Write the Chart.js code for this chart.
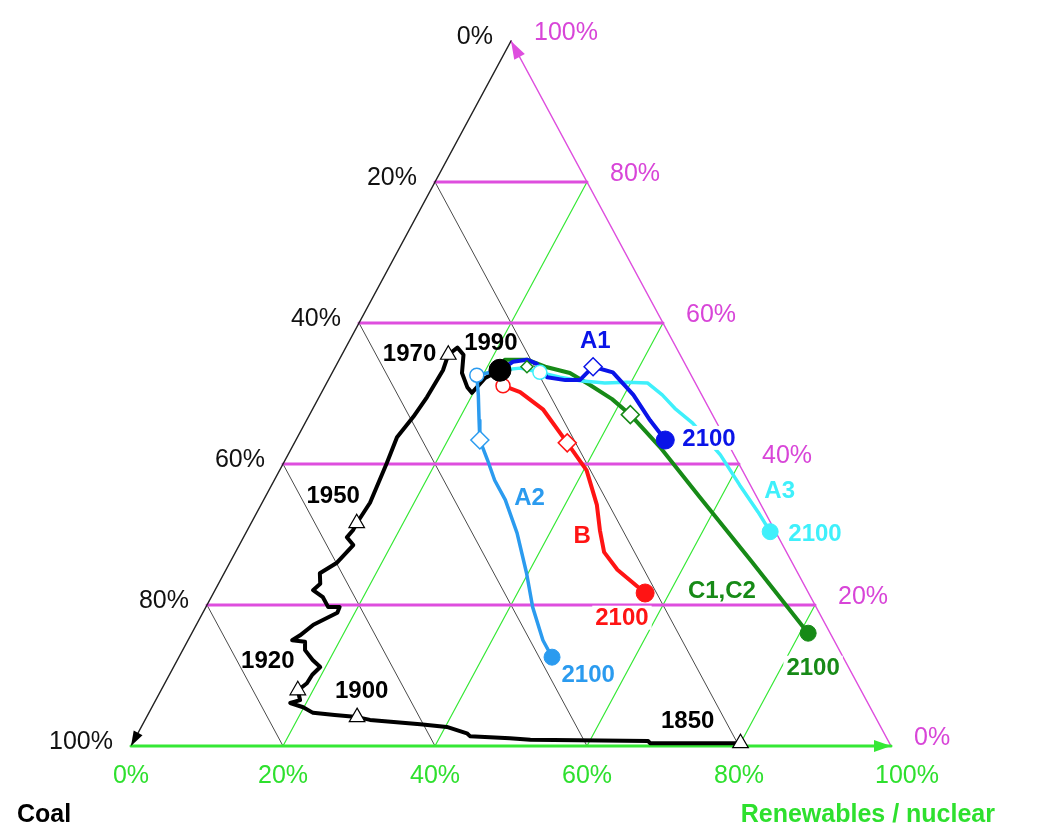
<!DOCTYPE html>
<html>
<head>
<meta charset="utf-8">
<script src="https://cdn.jsdelivr.net/npm/chart.js@4.4.1/dist/chart.umd.min.js"></script>
<style>
  html, body { margin: 0; padding: 0; background: #fff; }
  #wrap { width: 1052px; height: 829px; position: relative; }
</style>
</head>
<body>
<div id="wrap"><canvas id="c"></canvas></div>
<script>
// Every share is given in percent as [renewables/nuclear, oil/gas]; coal is the remainder.

const gridSteps = [20, 40, 60, 80];
const coalTicks = ['0%', '20%', '40%', '60%', '80%', '100%'];     // left edge, top -> bottom
const gasTicks = ['100%', '80%', '60%', '40%', '20%', '0%'];      // right edge, top -> bottom
const renewTicks = ['0%', '20%', '40%', '60%', '80%', '100%'];    // bottom edge, left -> right

// Historical world primary energy mix, 1850 -> 1990
const history = [
  [80.0, 0.4], [68.1, 0.4], [67.7, 0.7], [52.1, 0.9], [49.3, 1.1], [43.9, 1.4], [43.3, 1.8],
  [40.2, 2.7], [36.5, 3.1], [29.6, 3.7], [27.7, 4.1], [24.6, 4.4], [21.6, 4.7], [19.9, 5.5],
  [17.9, 6.1], [19.0, 6.5], [18.0, 7.9], [18.7, 8.9], [18.8, 10.1], [19.3, 11.2], [17.8, 12.2],
  [16.1, 13.6], [15.5, 14.8], [13.7, 15.0], [14.4, 15.7], [15.4, 17.2], [17.7, 18.9], [17.6, 19.7],
  [16.1, 19.7], [14.7, 21.1], [12.9, 22.1], [13.4, 23.0], [12.6, 24.5], [14.1, 26.0], [15.0, 28.5],
  [13.6, 29.6], [13.9, 30.6], [13.9, 31.6], [14.2, 34.5], [13.6, 40.1], [13.1, 43.8], [13.8, 46.7],
  [14.2, 49.5], [14.4, 53.3], [14.0, 55.5], [14.7, 56.5], [16.0, 55.5], [17.1, 52.9], [18.8, 50.9],
  [19.8, 50.1], [20.5, 52.2], [21.9, 53.3]
];
const historyYears = ['1850', '1900', '1920', '1950', '1970'];
const historyYearPoints = [[80.0, 0.4], [27.7, 4.1], [18.0, 7.9], [13.9, 31.6], [14.0, 55.5]];
const base1990 = [21.9, 53.3];

// Scenario paths 1990 -> 2100
const scenA1 = [[21.9, 53.3], [23.0, 54.5], [24.7, 54.8], [26.3, 54.2], [28.6, 52.3], [31.2, 51.9],
  [33.1, 51.9], [33.9, 53.8], [36.9, 53.0], [41.2, 49.8], [45.2, 46.2], [48.6, 43.4]];
const scenA2 = [[21.9, 53.3], [19.2, 52.6], [20.8, 49.8], [22.7, 46.2], [24.2, 43.4], [26.6, 40.6],
  [29.0, 37.7], [31.8, 34.9], [35.7, 30.2], [39.8, 24.5], [43.0, 19.7], [46.7, 15.0], [49.1, 12.6]];
const scenA3 = [[21.9, 53.3], [24.4, 53.6], [27.3, 53.0], [30.3, 52.3], [33.2, 51.8], [36.6, 51.5],
  [39.4, 51.6], [42.2, 51.5], [45.0, 49.8], [47.6, 47.9], [51.0, 45.8], [56.9, 41.3], [61.6, 37.0],
  [65.9, 33.2], [68.9, 30.4]];
const scenB = [[21.9, 53.3], [23.4, 51.1], [26.1, 50.2], [30.4, 47.7], [35.9, 43.0], [40.4, 39.1],
  [44.2, 34.2], [46.4, 30.6], [48.5, 27.5], [51.5, 25.0], [53.9, 23.5], [56.8, 21.7]];
const scenC = [[21.9, 53.3], [21.8, 54.8], [24.7, 54.8], [27.6, 53.8], [31.3, 52.9], [34.8, 51.2],
  [38.7, 49.2], [42.2, 47.0], [48.4, 42.4], [57.2, 35.3], [68.3, 26.4], [81.1, 16.0]];

// Intermediate milestones along the scenarios
const openCircles = { A2: [19.2, 52.6], B: [23.4, 51.1], A3: [27.3, 53.0] };
const openDiamonds = { A2: [24.2, 43.4], B: [35.9, 43.0], A1: [33.9, 53.8], C: [42.2, 47.0] };
const smallDiamondC = [25.2, 53.8];

const COL = {
  A1: '#0a14e8', A2: '#2b9bef', A3: '#3ff0fb', B: '#ff1414', C: '#178a17',
  grid: '#4a4a4a', green: '#35e835', magenta: '#de4ede', greenText: '#2ee02e', magentaText: '#d845d8'
};

const toXY = ([r, g]) => ({ x: (r + g / 2) / 100, y: g / 100 });

function lineSet(points, color, width, order) {
  return {
    data: points.map(toXY), showLine: true, borderColor: color, backgroundColor: color,
    borderWidth: width, pointRadius: 0, pointHoverRadius: 0, clip: false, order,
    borderJoinStyle: 'round', borderCapStyle: 'round'
  };
}
function markerSet(points, style, radius, stroke, fill, bw, order) {
  return {
    data: points.map(toXY), showLine: false, pointStyle: style, pointRadius: radius,
    pointHoverRadius: radius, pointBorderColor: stroke, pointBackgroundColor: fill,
    pointBorderWidth: bw, clip: false, order
  };
}

const datasets = [];
gridSteps.forEach(k => {
  datasets.push(lineSet([[100 - k, 0], [0, 100 - k]], COL.grid, 1, 40));   // constant coal
  datasets.push(lineSet([[k, 0], [k, 100 - k]], COL.green, 1.2, 39));      // constant renewables
  datasets.push(lineSet([[0, k], [100 - k, k]], COL.magenta, 3, 38));      // constant oil/gas
});
datasets.push(lineSet([[0, 100], [0, 0]], '#222', 1.5, 37));
datasets.push(lineSet([[100, 0], [0, 100]], COL.magenta, 1.5, 37));
datasets.push(lineSet([[0, 0], [100, 0]], COL.green, 3, 36));

datasets.push(lineSet(history, '#000', 4, 30));
datasets.push(lineSet(scenC, COL.C, 4, 25));
datasets.push(lineSet(scenA3, COL.A3, 3.5, 24));
datasets.push(lineSet(scenA1, COL.A1, 4, 23));
datasets.push(lineSet(scenB, COL.B, 4, 22));
datasets.push(lineSet(scenA2, COL.A2, 3.5, 21));

datasets.push(markerSet(historyYearPoints, 'triangle', 9, '#000', '#fff', 1.2, 10));
datasets.push(markerSet([openCircles.A2], 'circle', 7, COL.A2, '#fff', 1.5, 9));
datasets.push(markerSet([openCircles.B], 'circle', 7, COL.B, '#fff', 1.5, 9));
datasets.push(markerSet([openCircles.A3], 'circle', 7, COL.A3, '#fff', 1.5, 9));
datasets.push(markerSet([openDiamonds.A2], 'rectRot', 9, COL.A2, '#fff', 1.5, 9));
datasets.push(markerSet([openDiamonds.B], 'rectRot', 9, COL.B, '#fff', 1.5, 9));
datasets.push(markerSet([openDiamonds.A1], 'rectRot', 9, COL.A1, '#fff', 1.5, 9));
datasets.push(markerSet([openDiamonds.C], 'rectRot', 9, COL.C, '#fff', 1.5, 9));
datasets.push(markerSet([smallDiamondC], 'rectRot', 6, COL.C, '#fff', 1.5, 9));

datasets.push(markerSet([scenA1[scenA1.length - 1]], 'circle', 9, COL.A1, COL.A1, 1, 5));
datasets.push(markerSet([scenA2[scenA2.length - 1]], 'circle', 8, COL.A2, COL.A2, 1, 5));
datasets.push(markerSet([scenA3[scenA3.length - 1]], 'circle', 8, COL.A3, COL.A3, 1, 5));
datasets.push(markerSet([scenB[scenB.length - 1]], 'circle', 9, COL.B, COL.B, 1, 5));
datasets.push(markerSet([scenC[scenC.length - 1]], 'circle', 8, COL.C, COL.C, 1, 5));
datasets.push(markerSet([base1990], 'circle', 11, '#000', '#000', 1, 1));

// Annotations: [text, anchor share, colour, white backing]
const notes = [
  ['1850', [71.4, 3.7], '#000', false],
  ['1900', [26.4, 7.9], '#000', false],
  ['1920', [11.9, 12.2], '#000', false],
  ['1950', [8.8, 35.6], '#000', false],
  ['1970', [8.8, 55.7], '#000', false],
  ['1990', [18.7, 57.3], '#000', false],
  ['A1', [32.3, 57.6], COL.A1, false],
  ['A2', [34.8, 35.3], COL.A2, false],
  ['A3', [67.2, 36.3], COL.A3, false],
  ['B', [44.4, 29.9], COL.B, false],
  ['C1,C2', [66.7, 22.1], COL.C, false],
  ['2100', [54.2, 43.7], COL.A1, true],
  ['2100', [74.9, 30.2], COL.A3, true],
  ['2100', [55.1, 10.1], COL.A2, true],
  ['2100', [55.5, 18.2], COL.B, true],
  ['2100', [84.2, 11.1], COL.C, true]
];

const FONT = '"Liberation Sans", Arial, Helvetica, sans-serif';

const ternaryDecor = {
  id: 'ternaryDecor',
  afterDatasetsDraw(chart) {
    const { ctx, scales: { x, y } } = chart;
    const px = p => { const q = toXY(p); return [x.getPixelForValue(q.x), y.getPixelForValue(q.y)]; };
    const top = px([0, 100]), bl = px([0, 0]), br = px([100, 0]);

    function arrow(tip, from, len, half, color) {
      const dx = tip[0] - from[0], dy = tip[1] - from[1];
      const d = Math.hypot(dx, dy), ux = dx / d, uy = dy / d;
      const bx = tip[0] - ux * len, by = tip[1] - uy * len;
      ctx.beginPath();
      ctx.moveTo(tip[0], tip[1]);
      ctx.lineTo(bx - uy * half, by + ux * half);
      ctx.lineTo(bx + uy * half, by - ux * half);
      ctx.closePath();
      ctx.fillStyle = color;
      ctx.fill();
    }
    ctx.save();
    arrow(bl, top, 15, 5, '#000');
    arrow(top, br, 18, 6, COL.magenta);
    arrow(br, bl, 17, 6, COL.green);

    ctx.font = '25px ' + FONT;
    ctx.textBaseline = 'middle';
    // coal shares on the left edge
    ctx.fillStyle = '#111';
    ctx.textAlign = 'right';
    coalTicks.forEach((t, i) => {
      const p = px([0, 100 - i * 20]);
      ctx.fillText(t, p[0] - 18, p[1] - 4);
    });
    // oil/gas shares on the right edge
    ctx.fillStyle = COL.magentaText;
    ctx.textAlign = 'left';
    gasTicks.forEach((t, i) => {
      const g = 100 - i * 20;
      const p = px([100 - g, g]);
      ctx.fillText(t, p[0] + 23, p[1] - 8);
    });
    // renewables shares along the bottom
    ctx.fillStyle = COL.greenText;
    ctx.textAlign = 'center';
    renewTicks.forEach((t, i) => {
      const p = px([i * 20, 0]);
      ctx.fillText(t, p[0] + (i === 5 ? 16 : 0), p[1] + 30);
    });

    // corner titles
    ctx.font = 'bold 25px ' + FONT;
    ctx.fillStyle = '#000';
    ctx.textAlign = 'left';
    ctx.fillText('Coal', bl[0] - 114, bl[1] + 69);
    ctx.fillStyle = COL.greenText;
    ctx.textAlign = 'right';
    ctx.fillText('Renewables / nuclear', br[0] + 104, br[1] + 69);

    // path annotations
    ctx.font = 'bold 24px ' + FONT;
    ctx.textAlign = 'center';
    notes.forEach(([text, at, color, backed]) => {
      const p = px(at);
      if (backed) {
        const w = ctx.measureText(text).width;
        ctx.fillStyle = '#fff';
        ctx.fillRect(p[0] - w / 2 - 3, p[1] - 12, w + 6, 24);
      }
      ctx.fillStyle = color;
      ctx.fillText(text, p[0], p[1] + 1);
    });
    ctx.restore();
  }
};

new Chart(document.getElementById('c'), {
  type: 'scatter',
  data: { datasets },
  options: {
    responsive: true,
    maintainAspectRatio: false,
    animation: false,
    events: [],
    layout: { padding: { left: 131, right: 161, top: 41, bottom: 83 } },
    scales: {
      x: { type: 'linear', min: 0, max: 1, display: false },
      y: { type: 'linear', min: 0, max: 1, display: false }
    },
    plugins: { legend: { display: false }, tooltip: { enabled: false } }
  },
  plugins: [ternaryDecor]
});
</script>
</body>
</html>
